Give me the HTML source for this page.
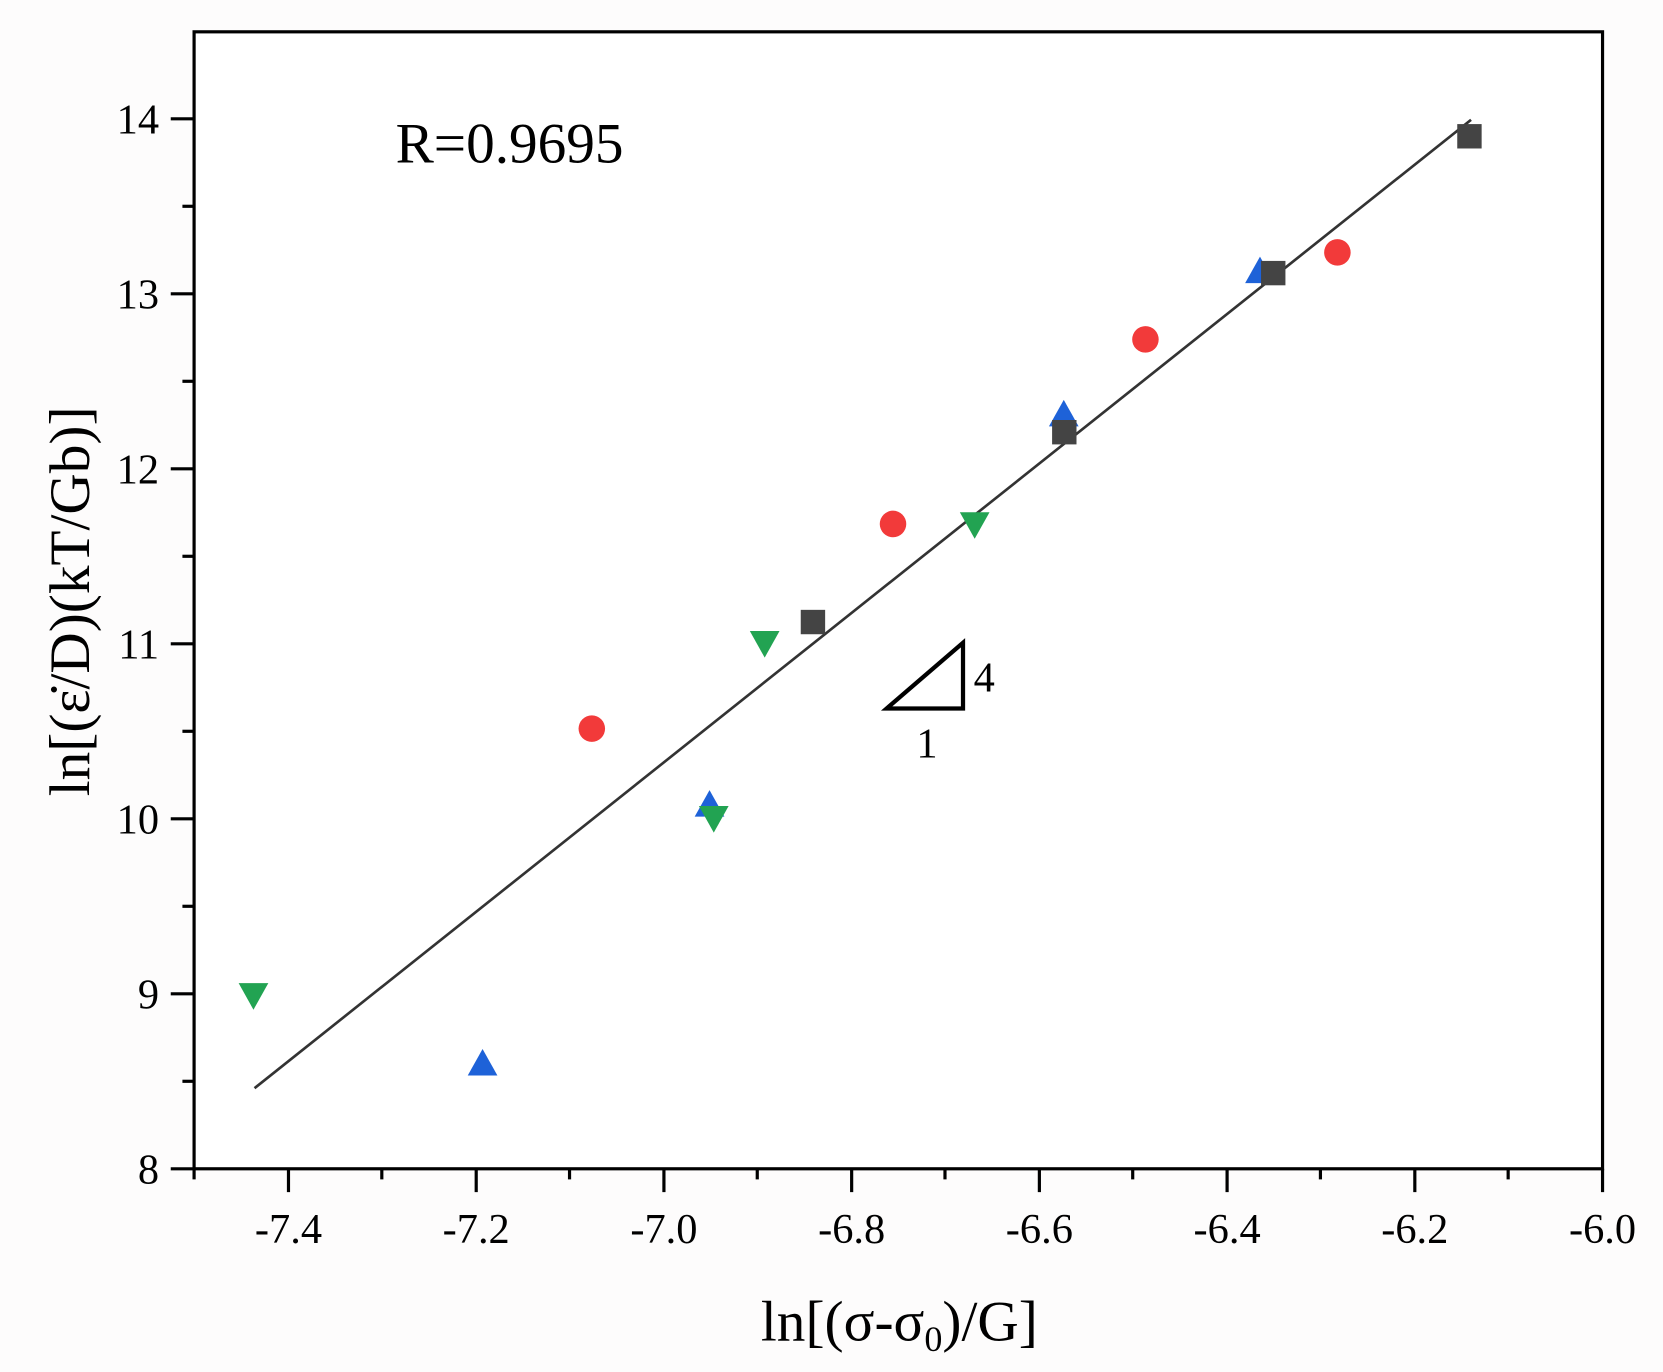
<!DOCTYPE html>
<html><head><meta charset="utf-8"><style>html,body{margin:0;padding:0;background:#fff}svg{display:block}</style></head>
<body>
<svg width="1663" height="1372" viewBox="0 0 1568 1293.6" preserveAspectRatio="none" xmlns="http://www.w3.org/2000/svg" font-family="Liberation Serif, serif">
<rect width="1568" height="1293.6" fill="#fdfcfc"/>
<rect x="183" y="30" width="1328" height="1072" fill="#fff"/>
<g stroke="#000" stroke-width="3" fill="none">
<rect x="183" y="30" width="1328" height="1072"/>
</g>
<g stroke="#000" stroke-width="3">
<line x1="272" y1="1102" x2="272" y2="1124"/><line x1="449" y1="1102" x2="449" y2="1124"/><line x1="626" y1="1102" x2="626" y2="1124"/><line x1="803" y1="1102" x2="803" y2="1124"/><line x1="980" y1="1102" x2="980" y2="1124"/><line x1="1157" y1="1102" x2="1157" y2="1124"/><line x1="1334" y1="1102" x2="1334" y2="1124"/><line x1="1511" y1="1102" x2="1511" y2="1124"/>
<line x1="183" y1="1102" x2="183" y2="1112"/><line x1="360" y1="1102" x2="360" y2="1112"/><line x1="537" y1="1102" x2="537" y2="1112"/><line x1="714" y1="1102" x2="714" y2="1112"/><line x1="891" y1="1102" x2="891" y2="1112"/><line x1="1068" y1="1102" x2="1068" y2="1112"/><line x1="1245" y1="1102" x2="1245" y2="1112"/><line x1="1422" y1="1102" x2="1422" y2="1112"/>
<line x1="161" y1="112" x2="183" y2="112"/><line x1="161" y1="277" x2="183" y2="277"/><line x1="161" y1="442" x2="183" y2="442"/><line x1="161" y1="607" x2="183" y2="607"/><line x1="161" y1="772" x2="183" y2="772"/><line x1="161" y1="937" x2="183" y2="937"/><line x1="161" y1="1102" x2="183" y2="1102"/>
<line x1="172" y1="194.5" x2="183" y2="194.5"/><line x1="172" y1="359.5" x2="183" y2="359.5"/><line x1="172" y1="524.5" x2="183" y2="524.5"/><line x1="172" y1="689.5" x2="183" y2="689.5"/><line x1="172" y1="854.5" x2="183" y2="854.5"/><line x1="172" y1="1019.5" x2="183" y2="1019.5"/>
</g>
<g font-size="40" text-anchor="middle" fill="#000">
<text x="272" y="1172">-7.4</text><text x="449" y="1172">-7.2</text><text x="626" y="1172">-7.0</text><text x="803" y="1172">-6.8</text><text x="980" y="1172">-6.6</text><text x="1157" y="1172">-6.4</text><text x="1334" y="1172">-6.2</text><text x="1511" y="1172">-6.0</text>
</g>
<g font-size="40" text-anchor="end" fill="#000">
<text x="150" y="126">14</text><text x="150" y="291">13</text><text x="150" y="456">12</text><text x="150" y="621">11</text><text x="150" y="786">10</text><text x="150" y="951">9</text><text x="150" y="1116">8</text>
</g>
<text x="848" y="1264" font-size="54" text-anchor="middle">ln[(σ-σ<tspan font-size="34" dy="10">0</tspan><tspan dy="-10">)/G]</tspan></text>
<text transform="translate(84,567) rotate(-90)" font-size="54" text-anchor="middle">ln[(ε̇/D)(kT/Gb)]</text>
<text x="373" y="153" font-size="54">R=0.9695</text>
<line x1="240" y1="1026" x2="1387" y2="113" stroke="#333" stroke-width="2.5"/>
<path d="M836 668 L908 606 L908 668 Z" fill="none" stroke="#000" stroke-width="4"/>
<text x="918" y="652" font-size="40">4</text>
<text x="864" y="714" font-size="40">1</text>
<g fill="#f23a3a">
<circle cx="1261" cy="238" r="12.5"/><circle cx="1080" cy="320" r="12.5"/><circle cx="842" cy="494" r="12.5"/><circle cx="558" cy="687" r="12.5"/>
</g>
<g fill="#1e62d8">
<path d="M1188 242 L1202 267 L1174 267Z"/><path d="M1003 377 L1017 402 L989 402Z"/><path d="M669 745 L683 770 L655 770Z"/><path d="M455 989 L469 1014 L441 1014Z"/>
</g>
<g fill="#444">
<rect x="1374" y="117" width="23" height="23"/><rect x="1189" y="246" width="23" height="23"/><rect x="992" y="396" width="23" height="23"/><rect x="755" y="575" width="23" height="23"/>
</g>
<g fill="#22a352">
<path d="M225 927 L253 927 L239 952Z"/><path d="M707 595 L735 595 L721 620Z"/><path d="M659 760 L687 760 L673 785Z"/><path d="M905 483 L933 483 L919 508Z"/>
</g>
</svg>
</body></html>
